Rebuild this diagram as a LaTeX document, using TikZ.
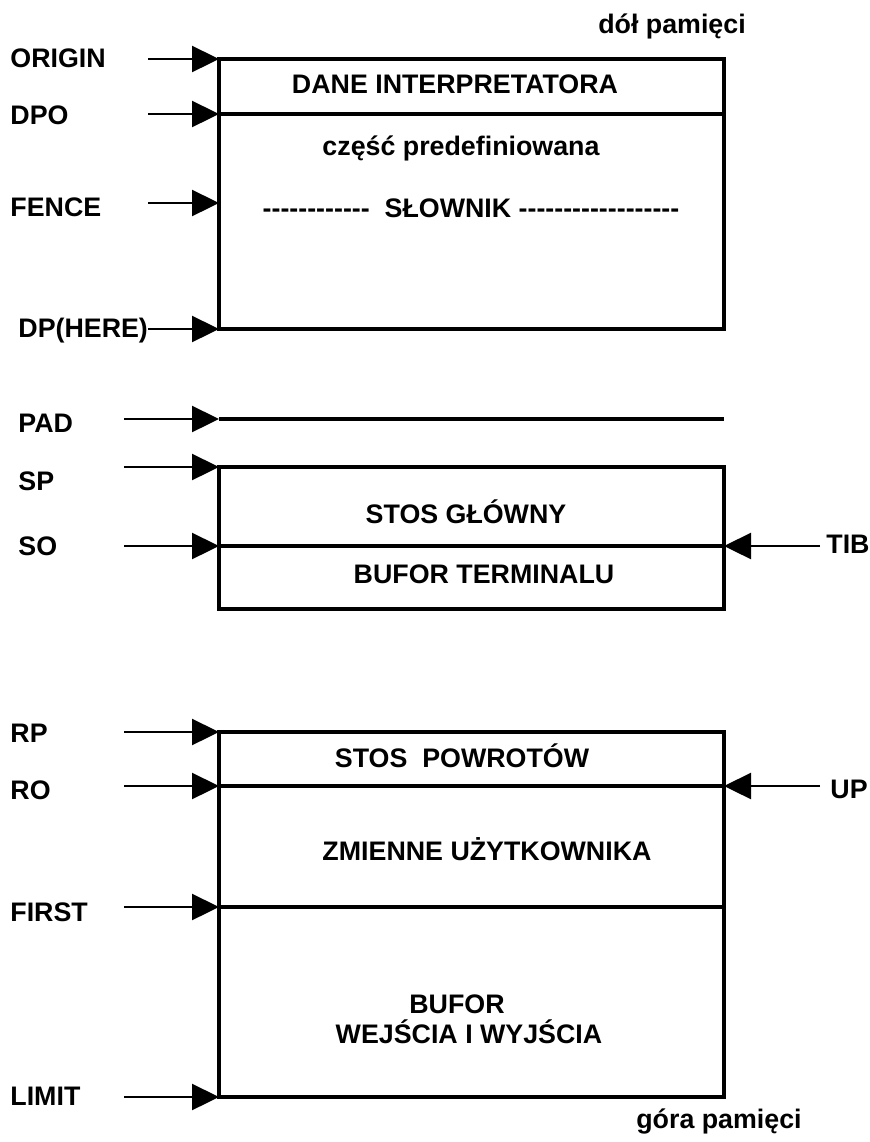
\documentclass[tikz,border=0pt]{standalone}
\usepackage{fontspec}
\setmainfont{Liberation Sans}[Ligatures=TeXOff]
\usetikzlibrary{arrows.meta}

\tikzset{
    wall/.style={line width=1.8pt},
    ptr/.style={line width=1.2pt, -{Triangle[length=13.5pt, width=13pt]}},
    txt/.style={inner sep=0pt, anchor=base, font=\fontsize{13.4}{16}\selectfont\bfseries},
    lbl/.style={txt, anchor=base west}
}

\begin{document}
\begin{tikzpicture}[x=0.5pt, y=-0.5pt]
            \useasboundingbox (0, 0) rectangle (869, 1142);

            \coordinate (ORIGIN) at (219, 59);
            \coordinate (DPO) at (219, 114);
            \coordinate (FENCE) at (219, 203);
            \coordinate (DP) at (219, 329);
            \coordinate (PAD) at (219, 419);
            \coordinate (SP) at (219, 467);
            \coordinate (SO) at (219, 546);
            \coordinate (SE) at (724, 609);
            \coordinate (RP) at (219, 732);
            \coordinate (RO) at (219, 786);
            \coordinate (FIRST) at (219, 907);
            \coordinate (LIMIT) at (219, 1097);
            \coordinate (TIB) at (724, 546);
            \coordinate (UP) at (724, 786);
            \coordinate (DPOe) at (724, 114);
            \coordinate (DPe) at (724, 329);
            \coordinate (PADe) at (724, 419);
            \coordinate (FIRSTe) at (724, 907);
            \coordinate (LIMITe) at (724, 1097);

            \coordinate (ORIGINt) at (148, 59);
            \coordinate (DPOt) at (148, 114);
            \coordinate (FENCEt) at (148, 203);
            \coordinate (DPt) at (148, 329);
            \coordinate (PADt) at (124, 419);
            \coordinate (SPt) at (124, 467);
            \coordinate (SOt) at (124, 546);
            \coordinate (RPt) at (124, 732);
            \coordinate (ROt) at (124, 786);
            \coordinate (FIRSTt) at (124, 907);
            \coordinate (LIMITt) at (124, 1097);
            \coordinate (TIBt) at (820, 546);
            \coordinate (UPt) at (820, 786);

            \draw[wall] (ORIGIN) rectangle (DPe);
            \draw[wall] (DPO) -- (DPOe);
            \draw[wall] (PAD) -- (PADe);
            \draw[wall] (SP) rectangle (SE);
            \draw[wall] (SO) -- (TIB);
            \draw[wall] (RP) rectangle (LIMITe);
            \draw[wall] (RO) -- (UP);
            \draw[wall] (FIRST) -- (FIRSTe);

            \draw[ptr] (ORIGINt) -- (ORIGIN);
            \draw[ptr] (DPOt) -- (DPO);
            \draw[ptr] (FENCEt) -- (FENCE);
            \draw[ptr] (DPt) -- (DP);
            \draw[ptr] (PADt) -- (PAD);
            \draw[ptr] (SPt) -- (SP);
            \draw[ptr] (SOt) -- (SO);
            \draw[ptr] (RPt) -- (RP);
            \draw[ptr] (ROt) -- (RO);
            \draw[ptr] (FIRSTt) -- (FIRST);
            \draw[ptr] (LIMITt) -- (LIMIT);
            \draw[ptr] (TIBt) -- (TIB);
            \draw[ptr] (UPt) -- (UP);

            \node[lbl] (lORIGIN) at (10, 67) {ORIGIN};
            \node[lbl] (lDPO) at (10, 124) {DPO};
            \node[lbl] (lFENCE) at (10, 216) {FENCE};
            \node[lbl] (lDP) at (18, 337) {DP(HERE)};
            \node[lbl] (lPAD) at (18, 432) {PAD};
            \node[lbl] (lSP) at (18, 490) {SP};
            \node[lbl] (lSO) at (18, 555) {SO};
            \node[lbl] (lRP) at (10, 742) {RP};
            \node[lbl] (lRO) at (10, 799) {RO};
            \node[lbl] (lFIRST) at (10, 921) {FIRST};
            \node[lbl] (lLIMIT) at (10, 1105) {LIMIT};
            \node[lbl] (lTIB) at (826, 553) {TIB};
            \node[lbl] (lUP) at (830, 798) {UP};

            \node[txt] (bottom) at (672, 33) {dół pamięci};
            \node[txt] (top) at (719, 1128) {góra pamięci};
            \node[txt] (interp) at (455, 93) {DANE INTERPRETATORA};
            \node[txt] (predef) at (461, 155) {część predefiniowana};
            \node[txt] (dict) at (471, 217) {------------\ \ SŁOWNIK ------------------};
            \node[txt] (stack) at (466, 523) {STOS GŁÓWNY};
            \node[txt] (tib) at (484, 583) {BUFOR TERMINALU};
            \node[txt] (rstack) at (462, 767) {STOS\ \ POWROTÓW};
            \node[txt] (user) at (487, 860) {ZMIENNE UŻYTKOWNIKA};
            \node[txt] (buf) at (457, 1013) {BUFOR};
            \node[txt] (io) at (469, 1043) {WEJŚCIA I WYJŚCIA};
        \end{tikzpicture}
\end{document}
